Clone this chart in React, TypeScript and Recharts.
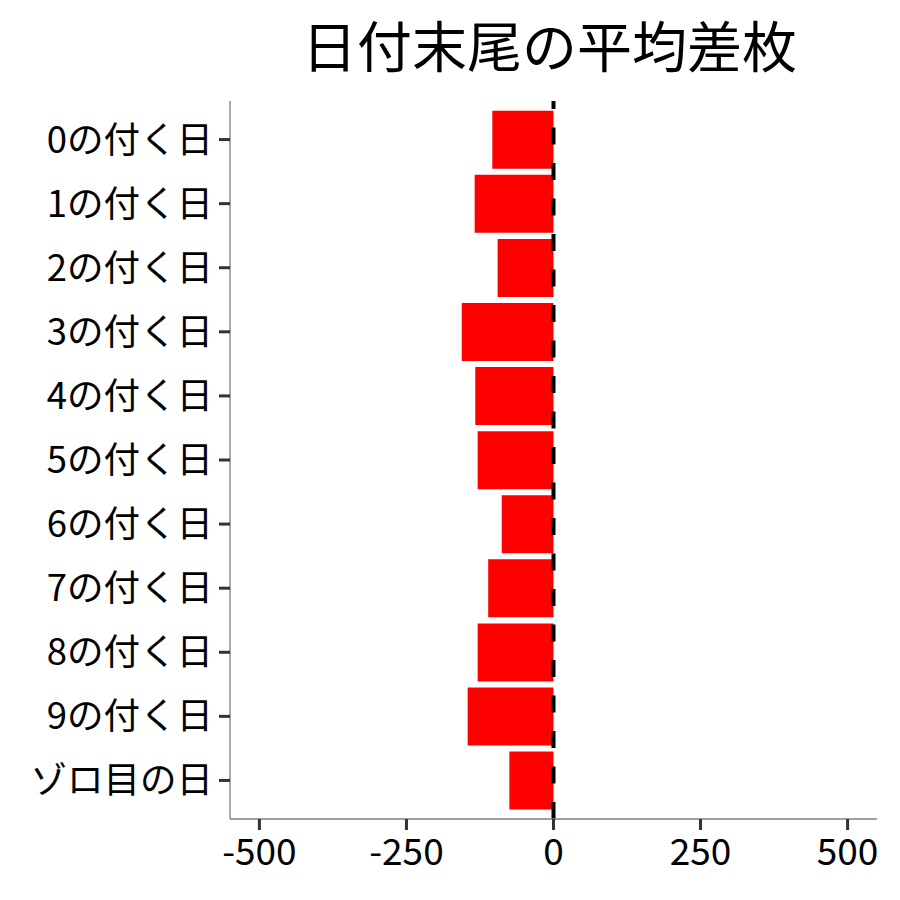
import { BarChart, Bar, XAxis, YAxis, ReferenceLine } from "recharts";

const FONT = '"Noto Sans CJK JP", "Noto Sans", sans-serif';

const categories = [
  "0の付く日",
  "1の付く日",
  "2の付く日",
  "3の付く日",
  "4の付く日",
  "5の付く日",
  "6の付く日",
  "7の付く日",
  "8の付く日",
  "9の付く日",
  "ゾロ目の日",
];
const avgDiff = [-104, -134, -95, -156, -133, -129, -88, -111, -129, -146, -75];
const xTicks = [-500, -250, 0, 250, 500];

const data = categories.map((name, i) => ({ name, value: avgDiff[i] }));

export default function App() {
  return (
    <div style={{ position: "absolute", left: 0, top: 0, width: 900, height: 900, background: "#fff" }}>
      <div
        style={{
          position: "absolute",
          left: 226,
          width: 647,
          top: 8,
          textAlign: "center",
          fontFamily: FONT,
          fontSize: 55,
          lineHeight: "70px",
          color: "#000",
        }}
      >
        日付末尾の平均差枚
      </div>
      <BarChart
        width={900}
        height={900}
        data={data}
        layout="vertical"
        barCategoryGap="5%"
        margin={{ top: 101, right: 23, bottom: 31, left: 0 }}
      >
        <XAxis
          type="number"
          domain={[-550, 550]}
          ticks={xTicks}
          allowDataOverflow
          axisLine={{ stroke: "#7f7f7f", strokeWidth: 1.3 }}
          tickLine={{ stroke: "#333333", strokeWidth: 3 }}
          tickSize={11}
          tickMargin={9}
          height={50}
          tick={{ fill: "#000", fontSize: 37, fontFamily: FONT }}
        />
        <YAxis
          type="category"
          dataKey="name"
          width={230}
          padding={{ top: 6.5, bottom: 6.5 }}
          axisLine={{ stroke: "#7f7f7f", strokeWidth: 1.3 }}
          tickLine={{ stroke: "#333333", strokeWidth: 3 }}
          tickSize={11}
          tickMargin={6}
          tick={{ fill: "#000", fontSize: 36.5, fontFamily: FONT }}
        />
        <Bar dataKey="value" fill="#ff0000" isAnimationActive={false} />
        <ReferenceLine x={0} stroke="#000" strokeWidth={4} strokeDasharray="17 18.5" />
      </BarChart>
    </div>
  );
}
